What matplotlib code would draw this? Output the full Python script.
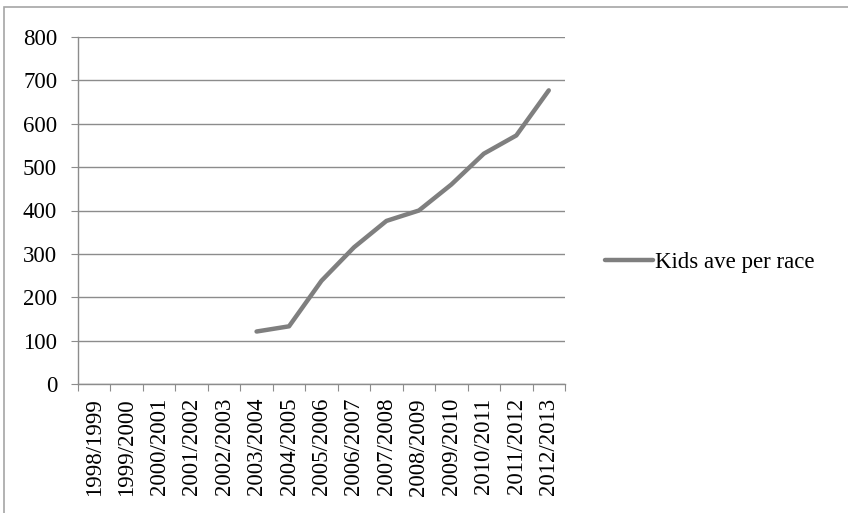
import matplotlib
matplotlib.use("Agg")
import matplotlib.pyplot as plt
from matplotlib.patches import Rectangle

seasons = ["1998/1999", "1999/2000", "2000/2001", "2001/2002", "2002/2003",
           "2003/2004", "2004/2005", "2005/2006", "2006/2007", "2007/2008",
           "2008/2009", "2009/2010", "2010/2011", "2011/2012", "2012/2013"]
# no data before 2003/2004
kids_per_race = [None, None, None, None, None,
                 121, 133, 238, 315, 376, 400, 460, 531, 573, 677]
y_ticks = [0, 100, 200, 300, 400, 500, 600, 700, 800]

plt.rcParams["font.family"] = ["Liberation Serif", "DejaVu Serif"]
FS = 16.5

fig = plt.figure(figsize=(8.48, 5.13), dpi=100)
W, H = 848, 513

# chart border (only top/left visible in the crop)
fig.patches.append(Rectangle((4 / W, -0.5), 2.0, 1.5 - 7 / H, transform=fig.transFigure,
                             fill=False, edgecolor="#a6a6a6", linewidth=1.2))

ax = fig.add_axes([78 / W, (513 - 384) / H, (565 - 78) / W, (384 - 37) / H])

xs = [i + 0.5 for i in range(len(seasons))]
pts = [(x, v) for x, v in zip(xs, kids_per_race) if v is not None]
ax.plot([p[0] for p in pts], [p[1] for p in pts], color="#7f7f7f",
        linewidth=3.2, solid_capstyle="round", solid_joinstyle="round",
        label="Kids ave per race")

ax.set_xlim(0, len(seasons))
ax.set_ylim(0, 800)
ax.set_yticks(y_ticks)
ax.set_yticklabels([str(t) for t in y_ticks], fontsize=FS)
ax.yaxis.grid(True, color="#8c8c8c", linewidth=1.0)
ax.set_axisbelow(True)

ax.set_xticks(range(len(seasons) + 1))
ax.set_xticklabels([])
ax.set_xticks(xs, minor=True)
ax.set_xticklabels(seasons, minor=True, rotation=90, fontsize=FS)
ax.tick_params(axis="x", which="minor", length=0, pad=10)
ax.tick_params(axis="x", which="major", length=5, color="#8c8c8c", direction="out")
ax.tick_params(axis="y", length=5, color="#8c8c8c", direction="out", pad=10)

for side in ["top", "right"]:
    ax.spines[side].set_visible(False)
for side in ["left", "bottom"]:
    ax.spines[side].set_color("#8c8c8c")
    ax.spines[side].set_linewidth(1.0)

handles, labels = ax.get_legend_handles_labels()
fig.legend(handles, labels, loc="center left", bbox_to_anchor=(605 / W, 1 - 262 / H),
           frameon=False, fontsize=FS, handlelength=2.1, handletextpad=0.1,
           borderpad=0, borderaxespad=0)

fig.savefig("out.png", dpi=100)
